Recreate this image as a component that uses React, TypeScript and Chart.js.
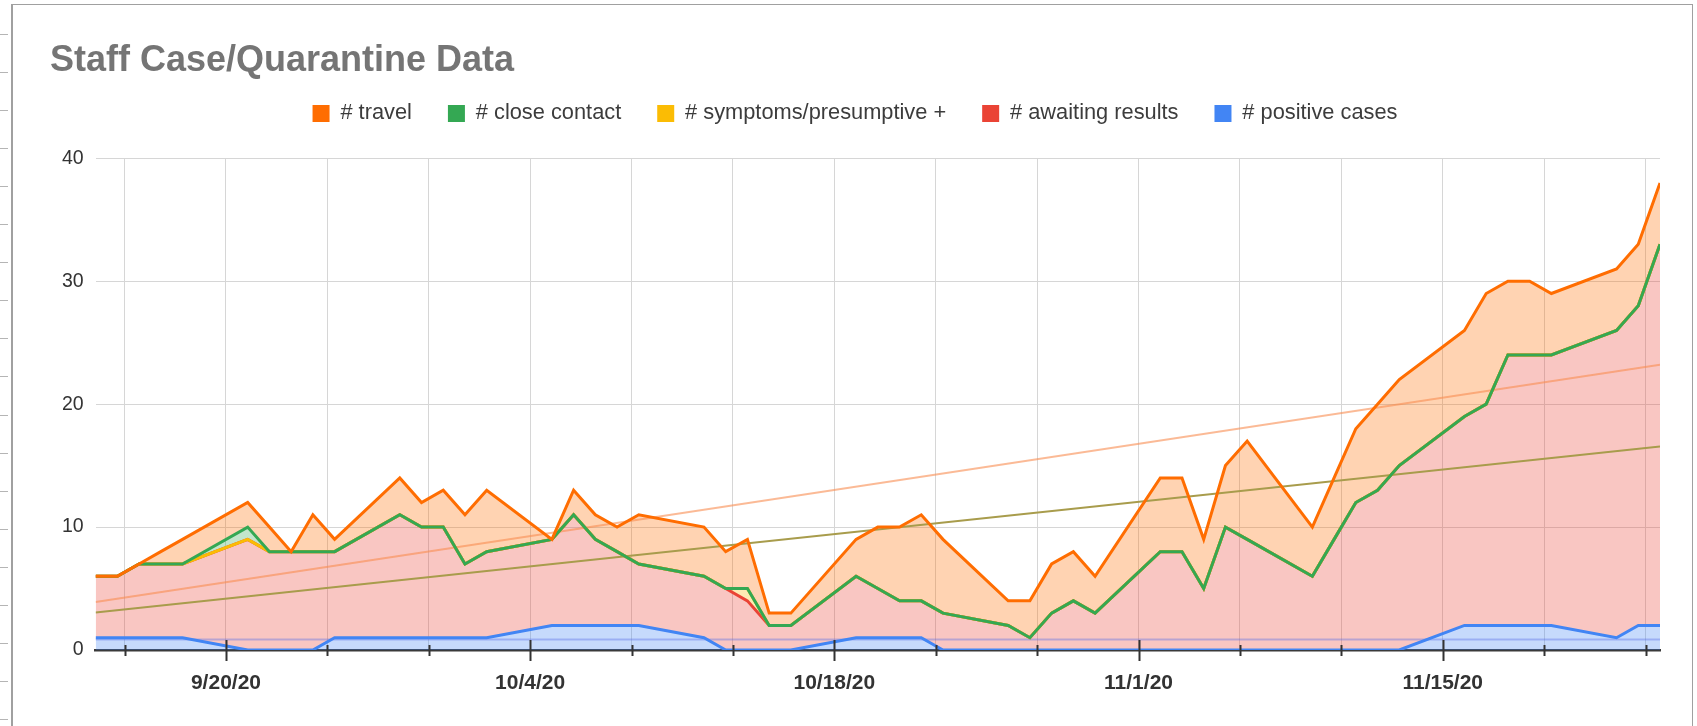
import React, { useEffect, useRef } from 'react';
import { Chart, registerables } from 'chart.js';

Chart.register(...registerables);

// ---- data ----
const YEAR = 2020;
const DATES = [
  '9/14', '9/15', '9/16', '9/17', '9/18',
  '9/21', '9/22', '9/23', '9/24', '9/25',
  '9/28', '9/29', '9/30', '10/1', '10/2',
  '10/5', '10/6', '10/7', '10/8', '10/9',
  '10/12', '10/13', '10/14', '10/15', '10/16',
  '10/19', '10/20', '10/21', '10/22', '10/23',
  '10/26', '10/27', '10/28', '10/29', '10/30',
  '11/2', '11/3', '11/4', '11/5', '11/6',
  '11/9', '11/10', '11/11', '11/12', '11/13',
  '11/16', '11/17', '11/18', '11/19', '11/20',
  '11/23', '11/24', '11/25',
];

const POSITIVE = [1, 1, 1, 1, 1, 0, 0, 0, 0, 1, 1, 1, 1, 1, 1, 2, 2, 2, 2, 2, 1, 0, 0, 0, 0, 1, 1, 1, 1, 0, 0, 0, 0, 0, 0, 0, 0, 0, 0, 0, 0, 0, 0, 0, 0, 2, 2, 2, 2, 2, 1, 2, 2];
const AWAITING = [5, 5, 6, 6, 6, 9, 8, 8, 8, 7, 10, 9, 9, 6, 7, 7, 9, 7, 6, 5, 5, 5, 4, 2, 2, 5, 4, 3, 3, 3, 2, 1, 3, 4, 3, 8, 8, 5, 10, 9, 6, 9, 12, 13, 15, 17, 18, 22, 22, 22, 25, 26, 31];
const SYMPTOMS = [0, 0, 0, 0, 0, 0, 0, 0, 0, 0, 0, 0, 0, 0, 0, 0, 0, 0, 0, 0, 0, 0, 1, 0, 0, 0, 0, 0, 0, 0, 0, 0, 0, 0, 0, 0, 0, 0, 0, 0, 0, 0, 0, 0, 0, 0, 0, 0, 0, 0, 0, 0, 0];
const CLOSE_CONTACT = [0, 0, 0, 0, 0, 1, 0, 0, 0, 0, 0, 0, 0, 0, 0, 0, 0, 0, 0, 0, 0, 0, 0, 0, 0, 0, 0, 0, 0, 0, 0, 0, 0, 0, 0, 0, 0, 0, 0, 0, 0, 0, 0, 0, 0, 0, 0, 0, 0, 0, 0, 0, 0];
const TRAVEL = [0, 0, 0, 1, 2, 2, 2, 0, 3, 1, 3, 2, 3, 4, 5, 0, 2, 2, 2, 4, 4, 3, 4, 1, 1, 3, 5, 6, 7, 6, 2, 3, 4, 4, 3, 6, 6, 4, 5, 8, 4, 5, 6, 7, 7, 7, 9, 6, 6, 5, 5, 5, 5];

// trendlines (value at first date, value at last date)
const TREND_TRAVEL = [3.9, 23.2];
const TREND_CLOSE = [3.05, 16.55];
const TREND_POSITIVE = [0.85, 0.85];

const X_TICK_LABELS = ['9/20/20', '10/4/20', '10/18/20', '11/1/20', '11/15/20'];
const Y_TICKS = [0, 10, 20, 30, 40];

const SERIES_NAMES = ['# positive cases', '# awaiting results', '# symptoms/presumptive +', '# close contact', '# travel'];
const SERIES_COLORS = ['#4285f4', '#ea4335', '#fbbc04', '#34a853', '#ff6d01'];

// ---- helpers ----
const DAY = 86400000;
const ORIGIN = Date.UTC(YEAR, 8, 14);
const dayOf = (md: string, yr = YEAR) => {
  const [m, d] = md.split('/').map(Number);
  return (Date.UTC(yr, m - 1, d) - ORIGIN) / DAY;
};
const dayOfLabel = (lbl: string) => {
  const [m, d, y] = lbl.split('/').map(Number);
  return (Date.UTC(2000 + y, m - 1, d) - ORIGIN) / DAY;
};
const hexA = (hex: string, a: number) => {
  const n = parseInt(hex.slice(1), 16);
  return `rgba(${(n >> 16) & 255},${(n >> 8) & 255},${n & 255},${a})`;
};

const X_DAYS = DATES.map((d) => dayOf(d));
const X_MIN = X_DAYS[0];
const X_MAX = X_DAYS[X_DAYS.length - 1];
const MAJOR_DAYS = X_TICK_LABELS.map(dayOfLabel);
const STEP = (MAJOR_DAYS[1] - MAJOR_DAYS[0]) / 3;
const TICKS: { value: number; major: boolean; label: string }[] = [];
for (let v = MAJOR_DAYS[0] - STEP; v >= X_MIN; v -= STEP) {
  TICKS.push({ value: v, major: false, label: '' });
}
MAJOR_DAYS.forEach((m, i) => {
  TICKS.push({ value: m, major: true, label: X_TICK_LABELS[i] });
  for (let k = 1; k <= 2; k++) {
    const v = m + k * STEP;
    if (v <= X_MAX && (i === MAJOR_DAYS.length - 1 || v < MAJOR_DAYS[i + 1] - 1e-6)) {
      TICKS.push({ value: v, major: false, label: '' });
    }
  }
});
TICKS.sort((a, b) => a.value - b.value);

const RAW = [POSITIVE, AWAITING, SYMPTOMS, CLOSE_CONTACT, TRAVEL];
const CUM: number[][] = [];
RAW.forEach((arr, s) => {
  CUM.push(arr.map((v, i) => v + (s > 0 ? CUM[s - 1][i] : 0)));
});

const FONT = "'Liberation Sans', Arial, Helvetica, sans-serif";

const axisTicksPlugin = {
  id: 'axisTicks',
  afterDatasetsDraw(chart: any) {
    const { ctx, chartArea, scales } = chart;
    const x = scales.x;
    ctx.save();
    ctx.strokeStyle = '#333';
    ctx.lineWidth = 2;
    TICKS.forEach((t) => {
      const px = Math.round(x.getPixelForValue(t.value)) + 0.5;
      const up = t.major ? 10 : 5;
      const down = t.major ? 11 : 6;
      ctx.beginPath();
      ctx.moveTo(px, chartArea.bottom - up);
      ctx.lineTo(px, chartArea.bottom + down);
      ctx.stroke();
    });
    ctx.restore();
  },
};

export default function App() {
  const ref = useRef<HTMLCanvasElement | null>(null);

  useEffect(() => {
    if (!ref.current) return;
    const areaSets = CUM.map((vals, s) => ({
      label: SERIES_NAMES[s],
      data: vals.map((y, i) => ({ x: X_DAYS[i], y })),
      borderColor: SERIES_COLORS[s],
      backgroundColor: hexA(SERIES_COLORS[s], 0.3),
      borderWidth: 3,
      pointRadius: 0,
      tension: 0,
      fill: s === 0 ? 'origin' : '-1',
      order: 4 - s,
    }));
    const trend = (vals: number[], color: string, order: number) => ({
      label: 'trend',
      data: [
        { x: X_MIN, y: vals[0] },
        { x: X_MAX, y: vals[1] },
      ],
      borderColor: color,
      borderWidth: 2,
      pointRadius: 0,
      fill: false,
      order,
    });
    const chart = new Chart(ref.current, {
      type: 'line',
      data: {
        datasets: [
          ...areaSets,
          trend(TREND_TRAVEL, 'rgba(248,140,80,0.6)', 10),
          trend(TREND_CLOSE, '#a89c4c', 11),
          trend(TREND_POSITIVE, 'rgba(90,110,230,0.4)', 12),
        ] as any,
      },
      options: {
        responsive: false,
        animation: false,
        layout: { padding: { top: 0, left: 38, right: 34, bottom: 0 } },
        plugins: {
          filler: { drawTime: 'beforeDatasetsDraw' },
          tooltip: { enabled: false },
          title: {
            display: true,
            text: 'Staff Case/Quarantine Data',
            align: 'start',
            color: '#757575',
            font: { family: FONT, size: 36, weight: 'bold', lineHeight: '1px' },
            padding: { top: 55.5, bottom: 5 },
          },
          subtitle: {
            display: true,
            text: '',
            weight: 100,
            font: { size: 10, lineHeight: 1 },
            padding: { top: 14, bottom: 0 },
          } as any,
          legend: {
            display: true,
            position: 'top',
            labels: {
              boxWidth: 17,
              boxHeight: 17,
              padding: 36,
              color: '#3c3c3c',
              font: { family: FONT, size: 21.8 },
              generateLabels: (ch: any) => {
                const items = (Chart.defaults.plugins.legend.labels as any).generateLabels(ch);
                return items
                  .filter((it: any) => it.datasetIndex < 5)
                  .map((it: any) => ({
                    ...it,
                    fillStyle: SERIES_COLORS[it.datasetIndex],
                    strokeStyle: SERIES_COLORS[it.datasetIndex],
                    lineWidth: 0,
                  }));
              },
            },
          },
        },
        scales: {
          x: {
            type: 'linear',
            min: X_MIN,
            max: X_MAX,
            afterBuildTicks: (scale: any) => {
              scale.ticks = TICKS.map((t) => ({ value: t.value }));
            },
            afterFit: (scale: any) => {
              scale.height = 76;
            },
            grid: { color: '#d6d6d6', lineWidth: 1, drawTicks: false },
            border: { display: true, color: '#3a3a3a', width: 2.5 },
            ticks: {
              autoSkip: false,
              maxRotation: 0,
              minRotation: 0,
              padding: 21,
              color: '#333',
              font: { family: FONT, size: 21, weight: 'bold' },
              callback: (value: any) => {
                const t = TICKS.find((k) => Math.abs(k.value - Number(value)) < 1e-6);
                return t ? t.label : '';
              },
            },
          },
          y: {
            min: Y_TICKS[0],
            max: Y_TICKS[Y_TICKS.length - 1],
            afterBuildTicks: (scale: any) => {
              scale.ticks = Y_TICKS.map((v) => ({ value: v }));
            },
            afterFit: (scale: any) => {
              scale.width = 45.6;
            },
            grid: { color: '#d6d6d6', lineWidth: 1, drawTicks: false },
            border: { display: false },
            ticks: {
              padding: 12,
              color: '#333',
              font: { family: FONT, size: 19.5 },
            },
          },
        },
      } as any,
      plugins: [axisTicksPlugin],
    });
    return () => chart.destroy();
  }, []);

  const dashes = [];
  for (let k = 0; k < 19; k++) {
    dashes.push(
      <div
        key={k}
        style={{ position: 'absolute', left: 0, top: 34 + k * 38.05, width: 8, height: 1, background: '#b5b5b5' }}
      />
    );
  }

  return (
    <div style={{ position: 'fixed', left: 0, top: 0, width: 1697, height: 726, background: '#fff', overflow: 'hidden' }}>
      {dashes}
      <div
        style={{
          position: 'absolute',
          left: 11,
          top: 4,
          width: 1682,
          height: 760,
          borderTop: '1px solid #a0a0a0',
          borderLeft: '2px solid #a0a0a0',
          borderRight: '1px solid #a0a0a0',
          boxSizing: 'border-box',
        }}
      />
      <canvas ref={ref} width={1682} height={721} style={{ position: 'absolute', left: 12, top: 5, width: 1682, height: 721 }} />
    </div>
  );
}
